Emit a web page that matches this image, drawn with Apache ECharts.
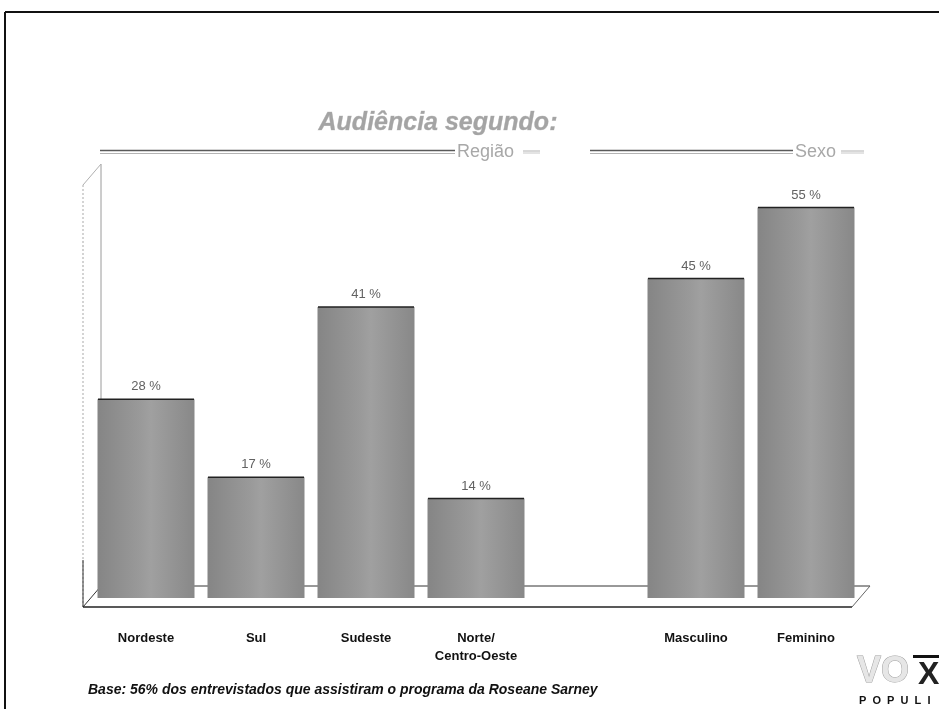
<!DOCTYPE html>
<html>
<head>
<meta charset="utf-8">
<script src="https://cdn.jsdelivr.net/npm/echarts@6/dist/echarts.min.js"></script>
<style>
  html, body { margin: 0; padding: 0; background: #fff; }
  #chart { width: 939px; height: 709px; }
</style>
</head>
<body>
<div id="chart"></div>
<script>
// Audience by region and by sex (percent)
const regionCategories = ['Nordeste', 'Sul', 'Sudeste', 'Norte/\nCentro-Oeste'];
const regionValues = [28, 17, 41, 14];
const sexCategories = ['Masculino', 'Feminino'];
const sexValues = [45, 55];

// one empty slot separates the two groups
const categories = regionCategories.concat([''], sexCategories);
const values = regionValues.concat([null], sexValues);

const FONT = '"Liberation Sans", Arial, sans-serif';

const chart = echarts.init(document.getElementById('chart'), null, { renderer: 'canvas' });

const barFill = {
  type: 'linear', x: 0, y: 0, x2: 1, y2: 0,
  colorStops: [
    { offset: 0, color: '#858585' },
    { offset: 0.45, color: '#9a9a9a' },
    { offset: 0.55, color: '#a0a0a0' },
    { offset: 1, color: '#888888' }
  ]
};

// header rule with a caption at its right end
function headerRule(x1, x2, y, caption) {
  return [
    { type: 'line', shape: { x1: x1, y1: y - 1.5, x2: x2, y2: y - 1.5 }, style: { stroke: '#5a5a5a', lineWidth: 1.5 } },
    { type: 'line', shape: { x1: x1, y1: y + 1.5, x2: x2, y2: y + 1.5 }, style: { stroke: '#b4b4b4', lineWidth: 1 } },
    { type: 'text', x: x2 + 2, y: y, style: { text: caption, font: '18px ' + FONT, fill: '#a8a8a8', textVerticalAlign: 'middle' } }
  ];
}
function shortRule(x1, x2, y) {
  return [
    { type: 'line', shape: { x1: x1, y1: y - 1, x2: x2, y2: y - 1 }, style: { stroke: '#b0b0b0', lineWidth: 1 } },
    { type: 'line', shape: { x1: x1, y1: y + 1, x2: x2, y2: y + 1 }, style: { stroke: '#c8c8c8', lineWidth: 1 } }
  ];
}

const option = {
  backgroundColor: '#ffffff',
  animation: false,
  title: {
    text: 'Audiência segundo:',
    left: 433, top: 106, textAlign: 'center',
    textStyle: { fontFamily: FONT, fontSize: 25, fontStyle: 'italic', fontWeight: 'bold', color: '#a4a4a4',
      textBorderColor: '#c8c8c8', textBorderWidth: 0.5 }
  },
  grid: { left: 91, right: 78, top: 172, bottom: 111, containLabel: false },
  xAxis: {
    type: 'category',
    data: categories,
    axisLine: { show: false },
    axisTick: { show: false },
    axisLabel: {
      interval: 0, margin: 31,
      fontFamily: FONT, fontSize: 13, fontWeight: 'bold', color: '#111', lineHeight: 18
    }
  },
  yAxis: {
    type: 'value', min: 0, max: 60,
    show: false, splitLine: { show: false }
  },
  series: [
    {
      type: 'bar',
      data: values,
      barWidth: 97,
      itemStyle: { color: barFill },
      label: {
        show: true, position: 'top', distance: 6,
        formatter: function (p) { return p.value + ' %'; },
        fontFamily: FONT, fontSize: 13, color: '#626262'
      }
    },
    {
      // dark edge along each bar's top
      type: 'custom',
      data: values.map(function (v, i) { return [i, v]; }),
      renderItem: function (params, api) {
        if (api.value(1) == null || isNaN(api.value(1))) return null;
        const p = api.coord([api.value(0), api.value(1)]);
        return {
          type: 'line',
          shape: { x1: p[0] - 48, y1: p[1], x2: p[0] + 48, y2: p[1] },
          style: { stroke: '#222', lineWidth: 1.5 }
        };
      },
      silent: true, z: 3
    }
  ],
  graphic: [].concat(
    // page frame
    [
      { type: 'line', shape: { x1: 5, y1: 12, x2: 939, y2: 12 }, style: { stroke: '#111', lineWidth: 2 } },
      { type: 'line', shape: { x1: 5, y1: 12, x2: 5, y2: 709 }, style: { stroke: '#111', lineWidth: 2 } }
    ],
    headerRule(100, 455, 152, 'Região'),
    shortRule(523, 540, 152),
    headerRule(590, 793, 152, 'Sexo'),
    shortRule(841, 864, 152),
    // 3D floor and wall outline
    [
      { type: 'line', shape: { x1: 101, y1: 164, x2: 101, y2: 587 }, style: { stroke: '#9a9a9a', lineWidth: 1 } },
      { type: 'line', shape: { x1: 83, y1: 185, x2: 101, y2: 164 }, style: { stroke: '#b0b0b0', lineWidth: 1 } },
      { type: 'line', shape: { x1: 83, y1: 185, x2: 83, y2: 607 }, style: { stroke: '#aaaaaa', lineWidth: 1, lineDash: [2, 2] } },
      { type: 'line', shape: { x1: 83, y1: 560, x2: 83, y2: 607 }, style: { stroke: '#333', lineWidth: 1 } },
      { type: 'line', shape: { x1: 101, y1: 586, x2: 870, y2: 586 }, style: { stroke: '#333', lineWidth: 1 } },
      { type: 'line', shape: { x1: 83, y1: 607, x2: 101, y2: 586 }, style: { stroke: '#333', lineWidth: 1 } },
      { type: 'line', shape: { x1: 83, y1: 607, x2: 852, y2: 607 }, style: { stroke: '#222', lineWidth: 1.5 } },
      { type: 'line', shape: { x1: 852, y1: 607, x2: 870, y2: 586 }, style: { stroke: '#666', lineWidth: 1 } }
    ],
    // footnote
    [
      { type: 'text', x: 88, y: 690, style: { text: 'Base: 56% dos entrevistados que assistiram o programa da Roseane Sarney',
        font: 'italic bold 14px ' + FONT, fill: '#111', textVerticalAlign: 'middle' } }
    ],
    // logo
    [
      { type: 'text', x: 857, y: 672, style: { text: 'VO', font: 'bold 36px ' + FONT, fill: '#e6e6e6',
        stroke: '#a0a0a0', lineWidth: 1, textVerticalAlign: 'middle' } },
      { type: 'rect', shape: { x: 913, y: 655, width: 30, height: 3 }, style: { fill: '#111' } },
      { type: 'text', x: 918, y: 675, style: { text: 'X', font: 'bold 32px ' + FONT, fill: '#222', textVerticalAlign: 'middle' } },
      { type: 'text', x: 859, y: 701, style: { text: 'P  O  P  U  L  I', font: 'bold 11px ' + FONT, fill: '#111', textVerticalAlign: 'middle' } }
    ]
  )
};

chart.setOption(option);
</script>
</body>
</html>
